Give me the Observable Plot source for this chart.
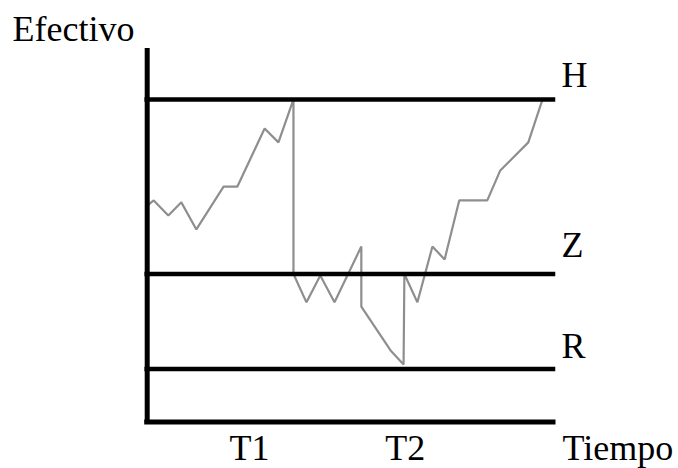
<!DOCTYPE html>
<html>
<head>
<meta charset="utf-8">
<script src="https://cdn.jsdelivr.net/npm/d3@7"></script>
<script src="https://cdn.jsdelivr.net/npm/@observablehq/plot@0.6"></script>
<style>
  html, body { margin: 0; padding: 0; background: #fff; }
  #chart svg { display: block; }
  #chart svg, #chart svg text { font-family: "Liberation Serif", Tinos, "Times New Roman", Times, "DejaVu Serif", serif !important; }
</style>
</head>
<body>
<div id="chart"></div>
<script>
// Cash balance path over time (Miller-Orr style)
const times = [0, 1.6, 5.2, 8.4, 12.1, 18.8, 22.2, 28.9, 32.3, 36.0, 36.0, 39.2, 42.6, 46.1, 52.7, 52.7, 59.9, 63.1, 63.3, 66.5, 70.2, 73.2, 76.8, 83.7, 86.9, 93.8, 97.3];
const cash  = [67.1, 68.7, 64.0, 68.1, 59.7, 73.0, 73.0, 91.0, 86.7, 100, 45.9, 37.1, 45.4, 37.1, 54.4, 35.8, 22.2, 17.8, 45.9, 37.1, 54.4, 50.4, 68.7, 68.7, 78.0, 86.7, 100];

// Control levels
const levelNames  = ["H", "Z", "R"];
const levelValues = [100, 45.9, 16.4];

// Period tick labels
const periodNames = ["T1", "T2"];
const periodTimes = [25.2, 63.5];

const yTitle = "Efectivo";
const xTitle = "Tiempo";
const yMax = 115.8;

const pathData = times.map((t, i) => ({t, v: cash[i]}));
const levels = levelNames.map((name, i) => ({name, v: levelValues[i]}));
const labelDy = {H: -12, Z: -16.5, R: -11.5};

const font = "'Liberation Serif', Tinos, 'Times New Roman', Times, 'DejaVu Serif', serif";

const chart = Plot.plot({
  width: 678,
  height: 468,
  marginLeft: 146.7,
  marginRight: 125,
  marginTop: 48,
  marginBottom: 46.5,
  style: `font-family: ${font}; font-size: 36px; color: #000; background: #fff;`,
  x: {domain: [0, 100]},
  y: {domain: [0, yMax]},
  marks: [
    Plot.line(pathData, {x: "t", y: "v", stroke: "#8e8e8e", strokeWidth: 2.2, strokeLinejoin: "miter"}),
    Plot.ruleY(levels, {y: "v", stroke: "#000", strokeWidth: 4.5, strokeLinecap: "square"}),
    Plot.ruleX([0], {stroke: "#000", strokeWidth: 5}),
    Plot.ruleY([0], {stroke: "#000", strokeWidth: 5, strokeLinecap: "square"}),
    ...levels.map(d => Plot.text([d], {
      y: "v", text: "name", frameAnchor: "right", textAnchor: "start",
      lineAnchor: "bottom", dx: 8, dy: labelDy[d.name],
      fontSize: 36, fontFamily: font, fill: "#000"
    })),
    Plot.axisX(periodTimes, {
      tickFormat: (d, i) => periodNames[i], tickSize: 0, tickPadding: 12,
      fontSize: 36, fontFamily: font, label: null, fill: "#000"
    }),
    Plot.axisY({ticks: [], label: null}),
    Plot.text([xTitle], {
      text: d => d, frameAnchor: "bottom-right", textAnchor: "start",
      lineAnchor: "bottom", dx: 9, dy: 38, fontSize: 36, fontFamily: font, fill: "#000"
    }),
    Plot.text([yTitle], {
      text: d => d, frameAnchor: "top-left", textAnchor: "start",
      lineAnchor: "bottom", dx: -134.7, dy: -8, fontSize: 36, fontFamily: font, fill: "#000"
    })
  ]
});
document.getElementById("chart").appendChild(chart);
</script>
</body>
</html>
